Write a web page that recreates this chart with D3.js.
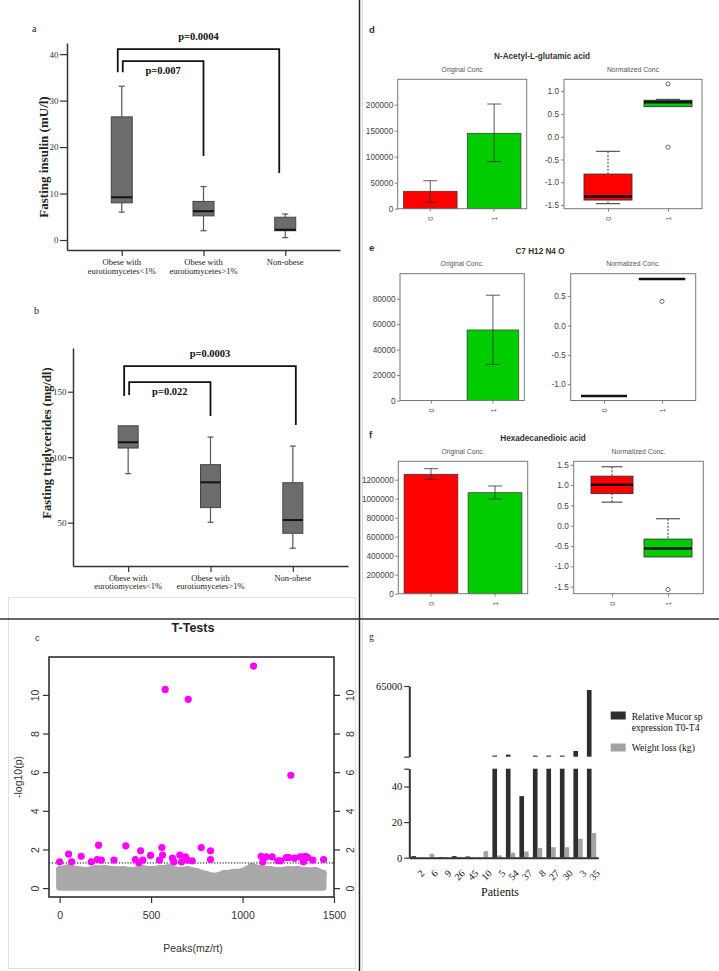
<!DOCTYPE html>
<html><head><meta charset="utf-8">
<script src="https://cdn.jsdelivr.net/npm/d3@7"></script>
<style>body{margin:0;background:#fff}</style>
</head><body>
<svg id="chart" width="719" height="971"></svg>
<script>
// ---------------- DATA ----------------
// Panels a & b (box plots: [min, q1, median, q3, max])
const boxCategories = ["Obese with\neurotiomycetes<1%", "Obese with\neurotiomycetes>1%", "Non-obese"];
const insulinBoxes = [[6.0, 8.0, 9.2, 26.5, 33.1], [2.0, 5.2, 6.2, 8.3, 11.5], [0.5, 2.0, 2.2, 4.9, 5.6]];
const insulinTicks = [0, 10, 20, 30, 40];
const insulinBrackets = [
  {label: "p=0.0004", from: 0, to: 2, top: 41.1, leftEnd: 36.1, rightEnd: 14.4, pos: "above"},
  {label: "p=0.007", from: 0, to: 1, top: 38.5, leftEnd: 36.1, rightEnd: 18.1, pos: "below"}
];
const trigBoxes = [[87.4, 107, 111.4, 124, 124], [50.3, 61.5, 80.8, 94.3, 115.4], [30.5, 41.9, 52, 80.5, 108.5]];
const trigTicks = [50, 100, 150];
const trigBrackets = [
  {label: "p=0.0003", from: 0, to: 2, top: 169.6, leftEnd: 146.7, rightEnd: 124.6, pos: "above"},
  {label: "p=0.022", from: 0, to: 1, top: 157.4, leftEnd: 147.5, rightEnd: 131.5, pos: "below"}
];

// Panel c (T-tests)
const magentaPeaks = [0, 49, 66, 118, 173, 206, 213, 228, 297, 362, 414, 433, 443, 455, 497, 546, 559, 563, 577, 617,
  625, 657, 667, 688, 699, 703, 725, 774, 825, 825, 1060, 1102, 1111, 1129, 1162, 1193, 1208, 1239, 1253, 1264,
  1284, 1315, 1330, 1333, 1344, 1357, 1384, 1443];
const magentaLogP = [1.36, 1.76, 1.36, 1.65, 1.36, 1.48, 2.22, 1.45, 1.45, 2.19, 1.48, 1.31, 1.93, 1.45, 1.69, 1.45, 2.10, 1.71, 10.28, 1.55,
  1.36, 1.71, 1.36, 1.62, 1.45, 9.77, 1.41, 2.10, 1.93, 1.48, 11.49, 1.65, 1.36, 1.62, 1.62, 1.41, 1.41, 1.58, 1.58, 5.84,
  1.55, 1.62, 1.62, 1.36, 1.65, 1.58, 1.45, 1.48];
const grayPeaks = [0, 50, 100, 150, 200, 250, 300, 350, 400, 450, 500, 550, 600, 650, 700, 750, 800, 850, 900, 950, 1000, 1050, 1100, 1150, 1200, 1250, 1300, 1350, 1400, 1440];
const grayTop = [0.95, 1.05, 0.95, 0.9, 1.0, 1.0, 0.95, 0.95, 0.9, 1.0, 0.95, 1.0, 1.05, 0.9, 0.95, 0.85, 0.7, 0.6, 0.75, 0.8, 0.85, 1.1, 1.0, 0.95, 0.9, 0.95, 0.95, 0.9, 0.9, 0.75];
const grayBottom = 0.05;
const pThreshold = 1.30103;
const tTicksX = [0, 500, 1000, 1500];
const tTicksY = [0, 2, 4, 6, 8, 10];

// Panels d, e, f
const metaGroups = ["0", "1"];
const nagMean = [33500, 145000], nagErrLow = [12300, 90400], nagErrHigh = [53800, 201300];
const nagBoxes = [[-1.47, -1.39, -1.31, -0.82, -0.32], [0.66, 0.66, 0.76, 0.80, 0.82]];
const nagOutliers = [[], [1.16, -0.23]];
const c7Mean = [0, 55400], c7ErrLow = [0, 28400], c7ErrHigh = [0, 82700];
const c7Boxes = [[-1.20, -1.20, -1.20, -1.20, -1.20], [0.79, 0.79, 0.79, 0.80, 0.80]];
const c7Outliers = [[], [0.41]];
const hexMean = [1257000, 1063000], hexErrLow = [1204000, 997000], hexErrHigh = [1316000, 1134000];
const hexBoxes = [[0.58, 0.79, 1.01, 1.22, 1.45], [-0.77, -0.77, -0.56, -0.33, 0.17]];
const hexOutliers = [[], [-1.57]];

// Panel g
const patients = ["2", "6", "9", "26", "45", "10", "5", "54", "37", "8", "27", "30", "3", "35"];
const mucorExpression = [0.9, 0, 0.4, 0.9, 0.7, 0, 1100, 2000, 34.6, 1100, 1100, 1100, 5300, 61300];
const weightLoss = [0, 2.2, 0.2, 0.5, 0.3, 3.7, 1.3, 2.8, 3.5, 5.4, 5.9, 5.9, 10.7, 13.9];
const legendLabels = [["Relative Mucor sp", "expression T0-T4"], ["Weight loss (kg)"]];

// ---------------- DRAWING ----------------
const SERIF = "'Liberation Serif','Times New Roman',serif";
const SANS = "'Liberation Sans',Arial,sans-serif";
const svg = d3.select("#chart");
svg.append("rect").attr("width", 719).attr("height", 971).attr("fill", "#fff");

// faint frames + dividers
svg.append("rect").attr("x", 8.5).attr("y", 597.5).attr("width", 347).attr("height", 371)
  .attr("fill", "none").attr("stroke", "#e0e0e0");
svg.append("line").attr("x1", 362.5).attr("x2", 362.5).attr("y1", 0).attr("y2", 971).attr("stroke", "#d8d8d8");

function styleAxis(a, font, size, color) {
  a.select(".domain").attr("stroke", "#333").attr("stroke-width", 1.5);
  a.selectAll(".tick line").attr("stroke", "#333").attr("stroke-width", 1.2);
  a.selectAll("text").attr("font-family", font).attr("font-size", size).attr("fill", color || "#222");
}

// ---------- panels a & b ----------
function boxPanel(cfg) {
  const g = svg.append("g");
  const x = d3.scalePoint().domain(boxCategories).range(cfg.xRange).padding(0.67);
  const y = d3.scaleLinear().domain(cfg.yDomain).range(cfg.yRange);
  g.append("text").attr("x", cfg.labelPos[0]).attr("y", cfg.labelPos[1]).text(cfg.label)
    .attr("font-family", SERIF).attr("font-size", 10).attr("fill", "#222");
  const yAx = g.append("g").attr("transform", `translate(${cfg.xRange[0]},0)`)
    .call(d3.axisLeft(y).tickValues(cfg.ticks).tickSize(cfg.tickSize).tickSizeOuter(0).tickPadding(1.5));
  styleAxis(yAx, SERIF, 9, "#333");
  const xAx = g.append("g").attr("transform", `translate(0,${cfg.yRange[0]})`)
    .call(d3.axisBottom(x).tickSize(6).tickSizeOuter(0).tickFormat(""));
  styleAxis(xAx, SERIF, 9);
  boxCategories.forEach(c => {
    const t = g.append("text").attr("text-anchor", "middle").attr("font-family", SERIF)
      .attr("font-size", 8.5).attr("fill", "#222");
    c.split("\n").forEach((line, k) => {
      t.append("tspan").attr("x", x(c)).attr("y", cfg.yRange[0] + cfg.catOffset + k * 8.8).text(line);
    });
  });
  g.append("text").attr("transform", `translate(${cfg.titleX},${cfg.titleY}) rotate(-90)`)
    .attr("text-anchor", "middle").attr("font-family", SERIF).attr("font-weight", "bold")
    .attr("font-size", cfg.titleSize).attr("fill", "#222").text(cfg.title);
  cfg.boxes.forEach((b, i) => {
    const cx = x(boxCategories[i]);
    const w = cfg.boxWidth;
    if (b[0] < b[1]) {
      g.append("line").attr("x1", cx).attr("x2", cx).attr("y1", y(b[0])).attr("y2", y(b[1])).attr("stroke", "#555").attr("stroke-width", 1.2);
      g.append("line").attr("x1", cx - 3).attr("x2", cx + 3).attr("y1", y(b[0])).attr("y2", y(b[0])).attr("stroke", "#555").attr("stroke-width", 1.2);
    }
    if (b[4] > b[3]) {
      g.append("line").attr("x1", cx).attr("x2", cx).attr("y1", y(b[4])).attr("y2", y(b[3])).attr("stroke", "#555").attr("stroke-width", 1.2);
      g.append("line").attr("x1", cx - 3).attr("x2", cx + 3).attr("y1", y(b[4])).attr("y2", y(b[4])).attr("stroke", "#555").attr("stroke-width", 1.2);
    }
    g.append("rect").attr("x", cx - w / 2).attr("y", y(b[3])).attr("width", w).attr("height", y(b[1]) - y(b[3]))
      .attr("fill", "#6c6c6c").attr("stroke", "#444").attr("stroke-width", 1);
    g.append("line").attr("x1", cx - w / 2).attr("x2", cx + w / 2).attr("y1", y(b[2])).attr("y2", y(b[2]))
      .attr("stroke", "#111").attr("stroke-width", 2);
  });
  cfg.brackets.forEach((br, k) => {
    const x1 = x(boxCategories[br.from]) + (k === 0 ? -4 : 1);
    const x2 = x(boxCategories[br.to]) + (k === 0 ? cfg.outerRightShift : 0);
    g.append("path").attr("d", `M${x1},${y(br.leftEnd)}V${y(br.top)}H${x2}V${y(br.rightEnd)}`)
      .attr("fill", "none").attr("stroke", "#111").attr("stroke-width", 1.8);
    g.append("text").attr("x", (x1 + x2) / 2).attr("y", br.pos === "above" ? y(br.top) - 9 : y(br.top) + 13)
      .attr("text-anchor", "middle").attr("font-family", SERIF).attr("font-weight", "bold")
      .attr("font-size", 10.5).attr("fill", "#111").text(br.label);
  });
}

boxPanel({label: "a", labelPos: [32, 32], xRange: [67, 340], yDomain: [-2.15, 42.4], yRange: [250, 43],
  ticks: insulinTicks, tickSize: 7, boxes: insulinBoxes, brackets: insulinBrackets, boxWidth: 21, catOffset: 15,
  title: "Fasting insulin (mU/l)", titleX: 48, titleY: 157, titleSize: 13, outerRightShift: -6});
boxPanel({label: "b", labelPos: [34, 314], xRange: [73, 348], yDomain: [16.9, 183.4], yRange: [566, 348],
  ticks: trigTicks, tickSize: 5, boxes: trigBoxes, brackets: trigBrackets, boxWidth: 20, catOffset: 14.5,
  title: "Fasting triglycerides (mg/dl)", titleX: 51, titleY: 443, titleSize: 12.5, outerRightShift: 3});

// ---------- panel c ----------
{
  const g = svg.append("g");
  const x = d3.scaleLinear().domain([-58, 1500]).range([49, 334]);
  const y = d3.scaleLinear().domain([-0.46, 11.96]).range([897, 657]);
  const area = d3.area().x((d, i) => x(grayPeaks[i])).y0(y(grayBottom)).y1(d => y(d)).curve(d3.curveLinear);
  g.append("path").datum(grayTop).attr("d", area).attr("fill", "#a9a9a9").attr("stroke", "#a9a9a9")
    .attr("stroke-width", 7).attr("stroke-linejoin", "round");
  g.selectAll("circle.gp").data(grayTop).join("circle").attr("class", "gp")
    .attr("cx", (d, i) => x(grayPeaks[i])).attr("cy", d => y(d)).attr("r", 3.8).attr("fill", "#a9a9a9");
  g.append("line").attr("x1", 49).attr("x2", 334).attr("y1", y(pThreshold)).attr("y2", y(pThreshold))
    .attr("stroke", "#000").attr("stroke-width", 1).attr("stroke-dasharray", "1.2,1.6");
  g.selectAll("circle.mp").data(magentaLogP).join("circle").attr("class", "mp")
    .attr("cx", (d, i) => x(magentaPeaks[i])).attr("cy", d => y(d)).attr("r", 3.6).attr("fill", "#ff00ff");
  g.append("rect").attr("x", 49).attr("y", 657).attr("width", 285).attr("height", 240)
    .attr("fill", "none").attr("stroke", "#222").attr("stroke-width", 1.5);
  const bx = g.append("g").attr("transform", "translate(0,897)")
    .call(d3.axisBottom(x).tickValues(tTicksX).tickSize(6).tickPadding(9).tickFormat(d => String(d)));
  styleAxis(bx, SANS, 10.5, "#333");
  bx.select(".domain").remove();
  const lx = g.append("g").attr("transform", "translate(49,0)")
    .call(d3.axisLeft(y).tickValues(tTicksY).tickSize(6).tickFormat(d => String(d)));
  styleAxis(lx, SANS, 10.5, "#333");
  lx.select(".domain").remove();
  lx.selectAll("text").attr("x", 0).attr("dy", "0.35em").attr("text-anchor", "middle")
    .attr("transform", "translate(-14,0) rotate(-90)");
  const rx = g.append("g").attr("transform", "translate(334,0)")
    .call(d3.axisRight(y).tickValues(tTicksY).tickSize(6).tickFormat(d => String(d)));
  styleAxis(rx, SANS, 10.5, "#333");
  rx.select(".domain").remove();
  rx.selectAll("text").attr("x", 0).attr("dy", "0.35em").attr("text-anchor", "middle")
    .attr("transform", "translate(16,0) rotate(-90)");
  g.append("text").attr("x", 193).attr("y", 632).attr("text-anchor", "middle").attr("font-family", SANS)
    .attr("font-weight", "bold").attr("font-size", 12.5).attr("fill", "#222").text("T-Tests");
  g.append("text").attr("x", 35).attr("y", 641).attr("font-family", SANS).attr("font-size", 9).attr("fill", "#333").text("c");
  g.append("text").attr("transform", "translate(18,777) rotate(-90)").attr("dy", "0.35em").attr("text-anchor", "middle")
    .attr("font-family", SANS).attr("font-size", 10.5).attr("fill", "#333").text("-log10(p)");
  g.append("text").attr("x", 193).attr("y", 952).attr("text-anchor", "middle")
    .attr("font-family", SANS).attr("font-size", 10.5).attr("fill", "#333").text("Peaks(mz/rt)");
}

// ---------- panels d, e, f ----------
const groupColors = ["#ff0000", "#00cc00"];
function metaPanel(cfg) {
  const g = svg.append("g");
  g.append("text").attr("x", cfg.labelPos[0]).attr("y", cfg.labelPos[1]).text(cfg.label)
    .attr("font-family", SANS).attr("font-weight", "bold").attr("font-size", 9.5).attr("fill", "#333");
  g.append("text").attr("x", cfg.titleX).attr("y", cfg.titleY).attr("text-anchor", "middle")
    .attr("font-family", SANS).attr("font-weight", "bold").attr("font-size", 8.2).attr("fill", "#333").text(cfg.title);
  // left: bar chart
  const L = cfg.left;
  const xb = d3.scaleBand().domain(metaGroups).range([L.x0, L.x1]).paddingInner(0.16).paddingOuter(0.09);
  const yb = d3.scaleLinear().domain([0, L.max]).range([L.yBottom, L.yTop]);
  g.append("text").attr("x", (L.x0 + L.x1) / 2).attr("y", cfg.subY).attr("text-anchor", "middle")
    .attr("font-family", SANS).attr("font-size", 6.8).attr("fill", "#555").text(L.subtitle);
  L.means.forEach((m, i) => {
    const bx = xb(metaGroups[i]);
    if (m > 0) g.append("rect").attr("x", bx).attr("y", yb(m)).attr("width", xb.bandwidth()).attr("height", yb(0) - yb(m))
      .attr("fill", groupColors[i]).attr("stroke", "#333").attr("stroke-width", 0.7);
    if (L.hi[i] > L.lo[i]) {
      const cx = bx + xb.bandwidth() / 2;
      g.append("line").attr("x1", cx).attr("x2", cx).attr("y1", yb(L.hi[i])).attr("y2", yb(L.lo[i])).attr("stroke", "#333").attr("stroke-width", 0.8);
      [L.hi[i], L.lo[i]].forEach(v => g.append("line").attr("x1", cx - 7).attr("x2", cx + 7).attr("y1", yb(v)).attr("y2", yb(v))
        .attr("stroke", "#333").attr("stroke-width", 0.8));
    }
  });
  g.append("rect").attr("x", L.x0).attr("y", L.yTop).attr("width", L.x1 - L.x0).attr("height", L.yBottom - L.yTop)
    .attr("fill", "none").attr("stroke", "#777").attr("stroke-width", 1);
  const la = g.append("g").attr("transform", `translate(${L.x0},0)`)
    .call(d3.axisLeft(yb).tickValues(L.ticks).tickSize(3).tickPadding(1.5).tickFormat(d => String(d)));
  styleAxis(la, SANS, 8.2, "#444"); la.select(".domain").remove();
  la.selectAll(".tick line").attr("stroke", "#666").attr("stroke-width", 0.8);
  const lb = g.append("g").attr("transform", `translate(0,${L.yBottom})`)
    .call(d3.axisBottom(xb).tickSize(3));
  styleAxis(lb, SANS, 7.5, "#555"); lb.select(".domain").remove();
  lb.selectAll(".tick line").attr("stroke", "#666").attr("stroke-width", 0.8);
  lb.selectAll("text").attr("y", 0).attr("dy", "0.35em").attr("text-anchor", "middle").attr("transform", "translate(0,10) rotate(-90)");
  // right: box plot
  const R = cfg.right;
  const xp = d3.scalePoint().domain(metaGroups).range(R.centers);
  const yp = d3.scaleLinear().domain(R.domain).range([R.yBottom, R.yTop]);
  g.append("text").attr("x", (R.x0 + R.x1) / 2).attr("y", cfg.subY).attr("text-anchor", "middle")
    .attr("font-family", SANS).attr("font-size", 6.8).attr("fill", "#555").text(R.subtitle);
  R.boxes.forEach((b, i) => {
    const cx = xp(metaGroups[i]);
    const w = R.boxWidth[i];
    if (b[0] < b[1]) {
      g.append("line").attr("x1", cx).attr("x2", cx).attr("y1", yp(b[0])).attr("y2", yp(b[1])).attr("stroke", "#333").attr("stroke-dasharray", "2,1.5");
      g.append("line").attr("x1", cx - w / 4).attr("x2", cx + w / 4).attr("y1", yp(b[0])).attr("y2", yp(b[0])).attr("stroke", "#333");
    }
    if (b[4] > b[3]) {
      g.append("line").attr("x1", cx).attr("x2", cx).attr("y1", yp(b[4])).attr("y2", yp(b[3])).attr("stroke", "#333").attr("stroke-dasharray", "2,1.5");
      g.append("line").attr("x1", cx - w / 4).attr("x2", cx + w / 4).attr("y1", yp(b[4])).attr("y2", yp(b[4])).attr("stroke", "#333");
    }
    if (b[3] > b[1]) g.append("rect").attr("x", cx - w / 2).attr("y", yp(b[3])).attr("width", w).attr("height", yp(b[1]) - yp(b[3]))
      .attr("fill", groupColors[i]).attr("stroke", "#333").attr("stroke-width", 0.9);
    g.append("line").attr("x1", cx - w / 2).attr("x2", cx + w / 2).attr("y1", yp(b[2])).attr("y2", yp(b[2]))
      .attr("stroke", "#111").attr("stroke-width", 2.6);
    R.outliers[i].forEach(o => g.append("circle").attr("cx", cx).attr("cy", yp(o)).attr("r", 2.1)
      .attr("fill", "none").attr("stroke", "#444").attr("stroke-width", 0.8));
  });
  g.append("rect").attr("x", R.x0).attr("y", R.yTop).attr("width", R.x1 - R.x0).attr("height", R.yBottom - R.yTop)
    .attr("fill", "none").attr("stroke", "#777").attr("stroke-width", 1);
  const ra = g.append("g").attr("transform", `translate(${R.x0},0)`)
    .call(d3.axisLeft(yp).tickValues(R.ticks).tickSize(3).tickPadding(2).tickFormat(d => d.toFixed(1)));
  styleAxis(ra, SANS, 8.2, "#444"); ra.select(".domain").remove();
  ra.selectAll(".tick line").attr("stroke", "#666").attr("stroke-width", 0.8);
  const rb = g.append("g").attr("transform", `translate(0,${R.yBottom})`)
    .call(d3.axisBottom(xp).tickSize(3));
  styleAxis(rb, SANS, 7.5, "#555"); rb.select(".domain").remove();
  rb.selectAll(".tick line").attr("stroke", "#666").attr("stroke-width", 0.8);
  rb.selectAll("text").attr("y", 0).attr("dy", "0.35em").attr("text-anchor", "middle").attr("transform", "translate(0,10) rotate(-90)");
}

metaPanel({label: "d", labelPos: [369, 32.5], title: "N-Acetyl-L-glutamic acid", titleX: 542, titleY: 58.5, subY: 71.5,
  left: {x0: 397.7, x1: 526.7, yTop: 79.3, yBottom: 208.7, max: 248800, ticks: [0, 50000, 100000, 150000, 200000],
    means: nagMean, lo: nagErrLow, hi: nagErrHigh, subtitle: "Original Conc"},
  right: {x0: 564, x1: 702, yTop: 79.3, yBottom: 208.7, domain: [-1.58, 1.26], ticks: [-1.5, -1, -0.5, 0, 0.5, 1],
    centers: [608, 668], boxWidth: [48, 48], boxes: nagBoxes, outliers: nagOutliers, subtitle: "Normalized Conc"}});
metaPanel({label: "e", labelPos: [369, 251], title: "C7 H12 N4 O", titleX: 540, titleY: 254, subY: 266,
  left: {x0: 400, x1: 524.3, yTop: 273.7, yBottom: 400.5, max: 99600, ticks: [0, 20000, 40000, 60000, 80000],
    means: c7Mean, lo: c7ErrLow, hi: c7ErrHigh, subtitle: "Original Conc."},
  right: {x0: 570.7, x1: 695.7, yTop: 273.7, yBottom: 400.5, domain: [-1.276, 0.881], ticks: [-1, -0.5, 0, 0.5],
    centers: [604, 662], boxWidth: [46, 46], boxes: c7Boxes, outliers: c7Outliers, subtitle: "Normalized Conc."}});
metaPanel({label: "f", labelPos: [369, 437.5], title: "Hexadecanedioic acid", titleX: 543, titleY: 441, subY: 453.5,
  left: {x0: 398.3, x1: 527.7, yTop: 461.3, yBottom: 593.7, max: 1393700,
    ticks: [0, 200000, 400000, 600000, 800000, 1000000, 1200000],
    means: hexMean, lo: hexErrLow, hi: hexErrHigh, subtitle: "Original Conc."},
  right: {x0: 573.7, x1: 703.3, yTop: 461.3, yBottom: 593.7, domain: [-1.675, 1.586], ticks: [-1.5, -1, -0.5, 0, 0.5, 1, 1.5],
    centers: [612, 668], boxWidth: [42, 48], boxes: hexBoxes, outliers: hexOutliers, subtitle: "Normalized Conc."}});

// ---------- panel g ----------
{
  const g = svg.append("g");
  const x = d3.scaleBand().domain(patients).range([409.3, 598.3]);
  const sub = d3.scaleBand().domain(["mucor", "weight"]).range([0, x.bandwidth()]).paddingOuter(0.45);
  const yLow = d3.scaleLinear().domain([0, 50]).range([857.7, 768.7]);
  const yUp = d3.scaleLinear().domain([50, 65000]).range([756.7, 686]);
  const black = "#2e2e2e", gray = "#a3a3a3";
  patients.forEach((p, i) => {
    const v = mucorExpression[i];
    const bx = x(p) + sub("mucor");
    const lv = Math.min(v, 50);
    if (lv > 0) g.append("rect").attr("x", bx).attr("y", yLow(lv)).attr("width", sub.bandwidth()).attr("height", yLow(0) - yLow(lv)).attr("fill", black);
    if (v > 50) g.append("rect").attr("x", bx).attr("y", yUp(v)).attr("width", sub.bandwidth()).attr("height", yUp(50) - yUp(v)).attr("fill", black);
    const w = weightLoss[i];
    if (w > 0) g.append("rect").attr("x", x(p) + sub("weight")).attr("y", yLow(w)).attr("width", sub.bandwidth())
      .attr("height", yLow(0) - yLow(w)).attr("fill", gray);
  });
  const la = g.append("g").attr("transform", "translate(409.3,0)")
    .call(d3.axisLeft(yLow).tickValues([0, 20, 40, 50]).tickSize(5).tickSizeOuter(0).tickPadding(2).tickFormat(d => d === 50 ? "" : String(d)));
  styleAxis(la, SERIF, 10.5, "#111");
  la.select(".domain").attr("stroke-width", 2);
  const ua = g.append("g").attr("transform", "translate(409.3,0)")
    .call(d3.axisLeft(yUp).tickValues([50, 65000]).tickSize(5).tickSizeOuter(0).tickPadding(2).tickFormat(d => d === 50 ? "" : String(d)));
  styleAxis(ua, SERIF, 10.5, "#111");
  ua.select(".domain").attr("stroke-width", 2);
  const xa = g.append("g").attr("transform", "translate(0,857.7)")
    .call(d3.axisBottom(x).tickSize(0).tickSizeOuter(0).tickFormat(""));
  styleAxis(xa, SERIF, 10, "#111");
  xa.select(".domain").attr("stroke-width", 2);
  patients.forEach(p => {
    const cx = x(p) + x.bandwidth() / 2;
    g.append("text").attr("transform", `translate(${cx + 4},869) rotate(-45)`).attr("text-anchor", "end")
      .attr("dy", "0.7em").attr("font-family", SERIF).attr("font-size", 10).attr("fill", "#111").text(p);
  });
  g.append("text").attr("x", 500).attr("y", 896).attr("text-anchor", "middle").attr("font-family", SERIF)
    .attr("font-size", 12).attr("fill", "#111").text("Patients");
  g.append("text").attr("x", 369).attr("y", 640).attr("font-family", SERIF).attr("font-size", 10).attr("fill", "#333").text("g");
  // legend
  g.append("rect").attr("x", 610.7).attr("y", 711.5).attr("width", 15).attr("height", 8).attr("fill", black);
  g.append("rect").attr("x", 610.7).attr("y", 743.5).attr("width", 15).attr("height", 8).attr("fill", gray);
  legendLabels[0].forEach((t, k) => g.append("text").attr("x", 631.7).attr("y", 719.5 + k * 11.7)
    .attr("font-family", SERIF).attr("font-size", 9.6).attr("fill", "#111").text(t));
  g.append("text").attr("x", 631.7).attr("y", 751).attr("font-family", SERIF).attr("font-size", 9.6)
    .attr("fill", "#111").text(legendLabels[1][0]);
}

// dividers on top
svg.append("line").attr("x1", 359.5).attr("x2", 359.5).attr("y1", 0).attr("y2", 971).attr("stroke", "#222").attr("stroke-width", 1.5);
svg.append("line").attr("x1", 0).attr("x2", 719).attr("y1", 619).attr("y2", 619).attr("stroke", "#333").attr("stroke-width", 1.5);
</script>
</body></html>
